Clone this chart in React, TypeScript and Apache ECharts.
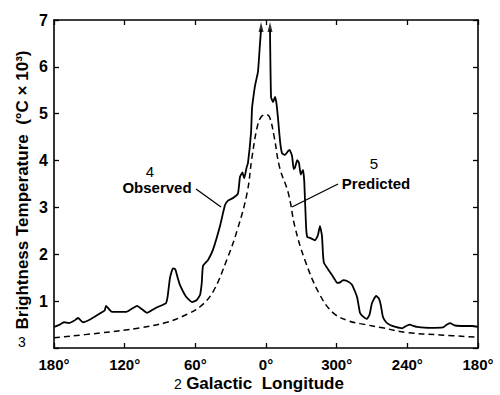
import React, { useEffect, useRef } from "react";
import * as echarts from "echarts";

// Galactic longitude expressed from +180 (left) to -180 (right); negative = 360 + value
const observedLon: number[] = [
  180, 175, 171.5, 167.3, 163, 159.6, 155.4, 148.6, 140.1, 137, 135.8, 133, 130.8, 118.9, 115, 109.5, 105, 101, 96, 92.5,
  84.9, 83.5, 81.5, 79, 77, 75, 73, 68, 62.8, 59, 56, 54.5, 53.5, 49.2, 45, 39.1, 34.8, 32, 28, 23.8,
  22.1, 20, 18.5, 16.5, 15.3, 12.7, 11.9, 11, 9.3, 6.8, 5.1, 4.2, 0, -3.4, -4.3, -6.0, -7.7, -9, -10.2, -12,
  -13.6, -16.1, -18.7, -20, -22.1, -23.5, -24.6, -26.5, -28, -29.5, -31.4, -32.5, -34, -35, -37.4, -41.6, -44, -45.8, -47.5, -48.4,
  -49.2, -54.3, -58, -60.3, -63, -65.4, -68.8, -73, -77.3, -79.8, -82, -85.7, -88, -90, -93.4, -96, -97.6, -99.3, -102, -105.3,
  -110, -115.5, -119, -122.3, -125, -128.2, -139.2, -150.3, -153, -156.2, -160.5, -169, -175, -180,
];
const observedT: (number | string)[] = [
  0.45, 0.5, 0.55, 0.53, 0.58, 0.64, 0.55, 0.62, 0.75, 0.8, 0.9, 0.82, 0.77, 0.77, 0.82, 0.9, 0.82, 0.75, 0.82, 0.87,
  0.96, 1.1, 1.5, 1.7, 1.68, 1.5, 1.34, 1.1, 0.98, 1.02, 1.13, 1.4, 1.75, 1.88, 2.1, 2.6, 3.05, 3.15, 3.2, 3.3,
  3.65, 3.75, 3.62, 3.85, 3.95, 4.6, 5.1, 5.3, 5.6, 5.9, 6.5, 6.8, "-", 6.8, 5.35, 5.25, 5.36, 5.2, 4.9, 4.4,
  4.16, 4.12, 4.2, 4.23, 4.1, 3.82, 3.85, 4.01, 3.95, 3.7, 3.8, 3.55, 2.6, 2.37, 2.35, 2.3, 2.4, 2.6, 2.4, 2.0,
  1.82, 1.62, 1.48, 1.39, 1.4, 1.45, 1.43, 1.35, 1.09, 0.75, 0.68, 0.62, 0.72, 0.96, 1.11, 1.05, 0.9, 0.66, 0.55, 0.49,
  0.45, 0.42, 0.47, 0.5, 0.47, 0.45, 0.43, 0.44, 0.49, 0.53, 0.48, 0.47, 0.47, 0.45,
];

const predictedLon: number[] = [
  180, 141, 107, 84, 67, 56, 45, 33, 24.6, 16.1, 12, 7.6, 4.2, 0, -3, -7, -11.5, -19, -24.6, -33, -45, -57, -71, -80, -99,
  -120, -148, -180,
];
const predictedT: number[] = [
  0.22, 0.32, 0.43, 0.55, 0.72, 0.88, 1.2, 1.9, 2.5, 3.3, 4.05, 4.7, 4.93, 4.98, 4.93, 4.5, 3.86, 3.3, 2.58, 1.88, 1.17,
  0.75, 0.57, 0.52, 0.43, 0.33, 0.28, 0.23,
];

const arrowLon: number[] = [4.2, -3.4];
const arrowT: number[] = [6.85, 6.85];

const yTicks: number[] = [0, 1, 2, 3, 4, 5, 6, 7];
const xTickLabels: string[] = ["180°", "120°", "60°", "0°", "300°", "240°", "180°"];

const FONT = "'Liberation Sans', Arial, Helvetica, sans-serif";

function lonLabel(v: number): string {
  const idx = Math.round((180 - v) / 60);
  return xTickLabels[idx] ?? "";
}

export default function App() {
  const ref = useRef<HTMLDivElement>(null);
  useEffect(() => {
    if (!ref.current) return;
    const chart = echarts.init(ref.current, undefined, { renderer: "svg" });
    const obs = observedLon.map((x, i) => [x, observedT[i]]);
    const pred = predictedLon.map((x, i) => [x, predictedT[i]]);
    const arrows = arrowLon.map((x, i) => [x, arrowT[i]]);
    const axisLine = { show: true, onZero: false, lineStyle: { color: "#000", width: 1.6 } };
    const tick = { show: true, inside: true, length: 5, lineStyle: { color: "#000", width: 1.3 } };
    chart.setOption({
      animation: false,
      backgroundColor: "#fff",
      grid: { left: 54, top: 20, right: 22, bottom: 47, containLabel: false },
      xAxis: [
        {
          type: "value",
          min: -180,
          max: 180,
          interval: 60,
          inverse: true,
          axisLine,
          axisTick: tick,
          axisLabel: {
            formatter: (v: number) => lonLabel(v),
            color: "#000",
            fontFamily: FONT,
            fontWeight: "bold",
            fontSize: 15,
            margin: 9,
          },
          splitLine: { show: false },
        },
        {
          type: "value",
          position: "top",
          min: -180,
          max: 180,
          interval: 60,
          inverse: true,
          axisLine,
          axisTick: tick,
          axisLabel: { show: false },
          splitLine: { show: false },
        },
      ],
      yAxis: [
        {
          type: "value",
          position: "left",
          min: 0,
          max: 7,
          interval: 1,
          axisLine,
          axisTick: tick,
          axisLabel: {
            formatter: (v: number) => (v === yTicks[0] ? "" : String(v)),
            color: "#000",
            fontFamily: FONT,
            fontWeight: "bold",
            fontSize: 16,
            margin: 6,
          },
          splitLine: { show: false },
        },
        {
          type: "value",
          position: "right",
          min: 0,
          max: 7,
          interval: 1,
          axisLine,
          axisTick: tick,
          axisLabel: { show: false },
          splitLine: { show: false },
        },
      ],
      series: [
        {
          name: "Predicted",
          type: "line",
          data: pred,
          smooth: 0.4,
          showSymbol: false,
          lineStyle: { color: "#000", width: 1.5, type: [6, 4] },
        },
        {
          name: "Observed",
          type: "line",
          data: obs,
          smooth: 0.15,
          connectNulls: false,
          showSymbol: false,
          lineStyle: { color: "#000", width: 1.8 },
        },
        {
          name: "arrows",
          type: "scatter",
          data: arrows,
          symbol: "triangle",
          symbolSize: [5, 10],
          itemStyle: { color: "#000" },
        },
      ],
      graphic: [
        {
          type: "text",
          x: 22,
          y: 190,
          rotation: Math.PI / 2,
          style: {
            text: "Brightness Temperature  (°C × 10³)",
            fill: "#000",
            font: `bold 17px ${FONT}`,
            align: "center",
            verticalAlign: "middle",
          },
        },
        {
          type: "text",
          x: 265,
          y: 383,
          style: {
            text: "Galactic  Longitude",
            fill: "#000",
            font: `bold 17px ${FONT}`,
            align: "center",
            verticalAlign: "middle",
          },
        },
        { type: "text", x: 178, y: 384, style: { text: "2", fill: "#000", font: `14px ${FONT}`, align: "center", verticalAlign: "middle" } },
        { type: "text", x: 22, y: 342, style: { text: "3", fill: "#000", font: `14px ${FONT}`, align: "center", verticalAlign: "middle" } },
        { type: "text", x: 150, y: 171, style: { text: "4", fill: "#000", font: `15px ${FONT}`, align: "center", verticalAlign: "middle" } },
        { type: "text", x: 157, y: 187, style: { text: "Observed", fill: "#000", font: `bold 15px ${FONT}`, align: "center", verticalAlign: "middle" } },
        { type: "text", x: 374, y: 163, style: { text: "5", fill: "#000", font: `15px ${FONT}`, align: "center", verticalAlign: "middle" } },
        { type: "text", x: 376, y: 183, style: { text: "Predicted", fill: "#000", font: `bold 15px ${FONT}`, align: "center", verticalAlign: "middle" } },
        { type: "line", shape: { x1: 196, y1: 189, x2: 221, y2: 207 }, style: { stroke: "#000", lineWidth: 1.3 } },
        { type: "line", shape: { x1: 338, y1: 184, x2: 292, y2: 207 }, style: { stroke: "#000", lineWidth: 1.3 } },
      ],
    });
    return () => chart.dispose();
  }, []);
  return <div ref={ref} style={{ width: 500, height: 395, position: "absolute", left: 0, top: 0 }} />;
}
